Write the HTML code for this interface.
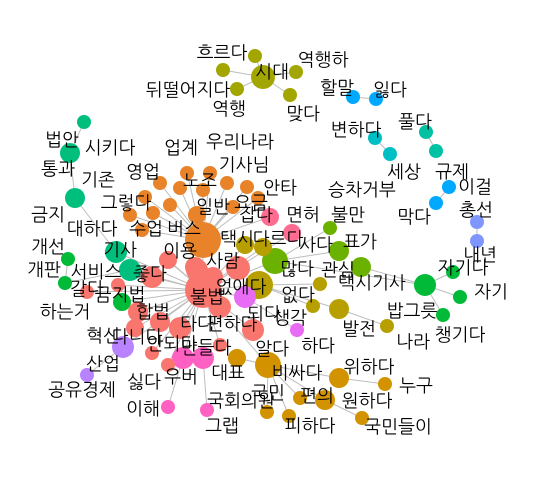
<!DOCTYPE html>
<html><head><meta charset="utf-8">
<style>
html,body{margin:0;padding:0;background:#fff;}
svg{display:block;}
text{font-family:"Liberation Sans","NanumGothic","Noto Sans CJK KR",sans-serif;font-size:18px;fill:#000;}
</style></head>
<body>
<svg id="net" width="538" height="480"></svg>
<script>
const nodeX=[255,223,263,296,237,290, 353,376,375,390,426,436,449,436,477,477,
84,70,75,116,68,65,130,122,
425,453,460,443,
330,339,361,275,
263,245,259,320,313,339,387,
268,237,339,385,300,325,267,289,362,
270,292,245,297,
183,203,168,207,
123,87,
187,210,227,247,258,160,180,203,145,170,153,130,197,233,142,203,
167,195,152,168,197,213,238,203,220,138,160,135,180,253,152,168,220,87,118];
const nodeY=[56,70,77,72,89,95, 97,99,138,154,132,151,187,203,222,241,
122,153,198,252,259,283,270,302,
285,272,297,315,
228,251,267,261,
247,245,285,284,306,309,326,
365,358,378,384,398,400,412,416,418,
217,233,297,330,
358,358,407,410,
347,375,
173,173,183,187,198,183,188,190,197,205,213,215,215,207,230,240,
260,267,277,260,270,277,268,290,307,312,322,328,328,330,353,365,345,292,285];
const nodeR=[7,7,12,7,7,7, 7,7,7,7,7,7,7,7,7,7,
7,10,10,11,7,7,11,9,
11,7,7,7,
7,10,10,13,
9,9,14,7,7,10,7,
13,9,10,7,7,10,7,7,7,
9,9,11,7,
11,11,7,7,
11,7,
7,7,7,7,7,7,7,7,7,7,7,7,9,7,7,18,
8,10,11,9,11,10,12,18,11,10,10,9,11,11,7,7,7,7,7];
const groups=["o","o","o","o","o","o","c1","c1","c2","c2","t2","t2","c1","c1","b","b",
"t","t","t","t","g","g","t","g",
"g","g","g","g",
"y","y","y","y",
"ol","ol","ol","ol","ol","ol","ol",
"gd","gd","gd","gd","gd","gd","gd","gd","gd",
"pk","pk","mg","mg",
"hp","hp","hp","hp",
"pu","pu",
"or","or","or","or","or","or","or","or","or","or","or","or","or","or","or","or",
"s","s","s","s","s","s","s","s","s","s","s","s","s","s","s","s","s","s","s"];
const colors={o:"#A3A500",c1:"#00A9FF",c2:"#00BFC4",t2:"#00C1A3",b:"#7F96FF",t:"#00BF7D",g:"#00BA38",y:"#6BB100",ol:"#B79F00",gd:"#D39200",pk:"#FF6C91",mg:"#E76BF3",hp:"#FF61C3",pu:"#B983FF",or:"#E8832A",s:"#F8766D"};
const parentOf=[2,2,-1,2,2,2, 7,-1,9,-1,11,-1,13,-1,15,-1,
17,18,19,81,21,22,81,81,
31,24,24,24,
31,31,24,81,
81,81,81,34,34,34,37,
81,39,39,41,39,39,39,39,44,
73,81,81,50,
81,52,52,53,
81,56,
73,73,73,73,73,73,73,73,73,73,73,73,73,73,73,81,
81,81,81,81,81,81,81,-1,81,81,81,81,81,81,81,81,81,81,81];
const labels=[["흐르다",222,53],["시대",272,72],["역행하",323,60],["뒤떨어지다",188,90],["할말",337,88],["잃다",390,90],["역행",229,109],["맞다",303,114],["변하다",356,130],["풀다",415,122],["법안",62,140],["시키다",110,148],["업계",181,148],["우리나라",240,142],["통과",58,169],["기존",98,180],["영업",143,172],["노조",200,181],["기사님",244,165],["세상",404,172],["규제",452,172],["안타",280,188],["승차거부",362,190],["그렇다",126,203],["일반",213,207],["요금",251,203],["금지",48,215],["대하다",92,229],["수업",146,229],["버스",184,229],["잡다",256,215],["면허",303,215],["불만",348,215],["이걸",475,187],["막다",414,217],["총선",476,210],["개선",48,247],["기사",120,250],["이용",180,251],["택시",237,239],["다르다",278,239],["사다",316,245],["표가",360,242],["내년",480,255],["서비스",96,272],["좋다",150,274],["사람",223,261],["많다",297,269],["관심",338,270],["자기다",463,268],["개판",44,270],["갈다",87,289],["금지법",120,295],["불법",207,297],["없애다",241,287],["없다",298,295],["택시기사",372,283],["자기",491,292],["하는거",65,312],["합법",153,312],["밥그릇",412,311],["되다",264,314],["생각",290,318],["편하다",232,324],["타다",197,324],["혁신",103,336],["다니다",137,337],["안되다",172,344],["만들다",206,348],["발전",359,329],["챙기다",460,335],["나라",413,342],["알다",272,349],["하다",318,346],["산업",103,364],["대표",228,373],["비싸다",297,373],["위하다",369,367],["싫다",144,382],["우버",181,377],["공유경제",82,390],["누구",416,386],["편의",317,396],["국민",268,393],["원하다",367,401],["이해",143,409],["국회의원",241,401],["피하다",310,426],["국민들이",398,427],["그랩",222,426]];
const NS="http://www.w3.org/2000/svg";
const svg=document.getElementById("net");
const gE=document.createElementNS(NS,"g");


svg.appendChild(gE);
for(let i=0;i<nodeX.length;i++){
  const b=parentOf[i];
  if(b<0||b>=nodeX.length) continue;
  const l=document.createElementNS(NS,"line");
  l.setAttribute("x1",nodeX[i]);l.setAttribute("y1",nodeY[i]);
  l.setAttribute("x2",nodeX[b]);l.setAttribute("y2",nodeY[b]);
  l.setAttribute("stroke","#bdbdbd");l.setAttribute("stroke-width","1");
  
  
  gE.appendChild(l);
}
const gN=document.createElementNS(NS,"g");


svg.appendChild(gN);
for(let i=0;i<nodeX.length;i++){
  const c=document.createElementNS(NS,"circle");
  c.setAttribute("cx",nodeX[i]);c.setAttribute("cy",nodeY[i]);c.setAttribute("r",nodeR[i]);
  c.setAttribute("fill",colors[groups[i]]);
  
  
  gN.appendChild(c);
}
const gL=document.createElementNS(NS,"g");


svg.appendChild(gL);
for(const [t,x,y] of labels){
  const tx=document.createElementNS(NS,"text");
  tx.setAttribute("x",x);tx.setAttribute("y",y+6);tx.setAttribute("text-anchor","middle");
  tx.textContent=t;
  
  
  gL.appendChild(tx);
}
</script>
</body></html>
